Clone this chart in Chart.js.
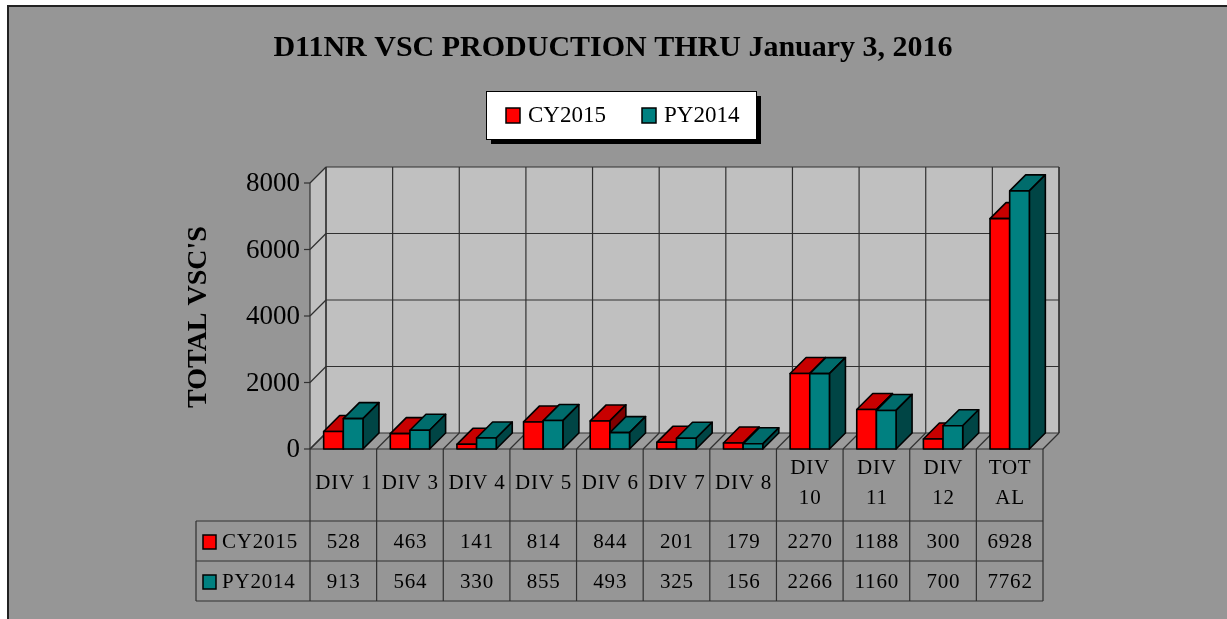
<!DOCTYPE html>
<html>
<head>
<meta charset="utf-8">
<script src="https://cdn.jsdelivr.net/npm/chart.js@4.4.1/dist/chart.umd.min.js"></script>
<style>
  html, body { margin: 0; padding: 0; background: #fff; }
  canvas { display: block; }
</style>
</head>
<body>
<canvas id="chart" width="1227" height="619"></canvas>
<script>
// data
const categories = ['DIV 1', 'DIV 3', 'DIV 4', 'DIV 5', 'DIV 6', 'DIV 7', 'DIV 8', 'DIV 10', 'DIV 11', 'DIV 12', 'TOTAL'];
const headerLabels = [['DIV 1'], ['DIV 3'], ['DIV 4'], ['DIV 5'], ['DIV 6'], ['DIV 7'], ['DIV 8'], ['DIV', '10'], ['DIV', '11'], ['DIV', '12'], ['TOT', 'AL']];
const cy2015 = [528, 463, 141, 814, 844, 201, 179, 2270, 1188, 300, 6928];
const py2014 = [913, 564, 330, 855, 493, 325, 156, 2266, 1160, 700, 7762];
const seriesNames = ['CY2015', 'PY2014'];
const yTicks = [0, 2000, 4000, 6000, 8000];
const titleText = 'D11NR VSC PRODUCTION THRU January 3, 2016';
const yTitleText = "TOTAL VSC'S";

const DX = 16, DY = -16;   // depth of the 3d box
const BG = '#969696';
const WALL = '#c0c0c0';
const LINE = '#303030';
const SERIF = "'Liberation Serif', 'Times New Roman', serif";
const colors = [
    { front: '#ff0000', top: '#c80000', side: '#800000' },
    { front: '#008080', top: '#006c6c', side: '#004545' }
];

function poly(ctx, pts, fill, stroke, lw) {
    ctx.beginPath();
    ctx.moveTo(pts[0][0], pts[0][1]);
    for (let i = 1; i < pts.length; i++) ctx.lineTo(pts[i][0], pts[i][1]);
    ctx.closePath();
    if (fill) { ctx.fillStyle = fill; ctx.fill(); }
    if (stroke) { ctx.strokeStyle = stroke; ctx.lineWidth = lw || 1; ctx.stroke(); }
}

function line(ctx, x1, y1, x2, y2) {
    ctx.beginPath();
    ctx.moveTo(x1, y1);
    ctx.lineTo(x2, y2);
    ctx.stroke();
}

// boundaries between categories, taken from the x scale
function catEdges(chart) {
    const xs = chart.scales.x;
    const n = categories.length;
    const w = (xs.getPixelForValue(1) - xs.getPixelForValue(0));
    const edges = [];
    for (let i = 0; i <= n; i++) edges.push(xs.getPixelForValue(0) - w / 2 + i * w);
    return edges;
}

const chart3d = {
    id: 'chart3d',
    beforeDraw(chart) {
        const ctx = chart.ctx;
        ctx.save();
        ctx.fillStyle = '#fff';
        ctx.fillRect(0, 0, chart.width, chart.height);
        ctx.fillStyle = BG;
        ctx.fillRect(7, 5, chart.width - 7, chart.height - 5);
        ctx.strokeStyle = '#222';
        ctx.lineWidth = 2;
        line(ctx, 7, 6, chart.width, 6);
        line(ctx, 8, 5, 8, chart.height);

        // title
        ctx.fillStyle = '#000';
        ctx.font = 'bold 30px ' + SERIF;
        ctx.textAlign = 'center';
        ctx.textBaseline = 'middle';
        ctx.fillText(titleText, 613, 48);

        // legend box with shadow
        ctx.fillStyle = '#000';
        ctx.fillRect(491, 96, 270, 48);
        ctx.fillStyle = '#fff';
        ctx.fillRect(486, 91, 270, 48);
        ctx.strokeStyle = '#000';
        ctx.lineWidth = 1;
        ctx.strokeRect(486.5, 91.5, 270, 48);
        ctx.font = '23px ' + SERIF;
        ctx.textAlign = 'left';
        const lx = [506, 642];
        seriesNames.forEach((s, i) => {
            ctx.fillStyle = colors[i].front;
            ctx.fillRect(lx[i], 108, 14, 15);
            ctx.strokeStyle = '#000';
            ctx.lineWidth = 1.5;
            ctx.strokeRect(lx[i], 108, 14, 15);
            ctx.fillStyle = '#000';
            ctx.fillText(s, lx[i] + 22, 116);
        });
        ctx.restore();
    },
    beforeDatasetsDraw(chart) {
        const ctx = chart.ctx;
        const a = chart.chartArea;
        const ys = chart.scales.y;
        const L = a.left, R = a.right, T = ys.getPixelForValue(8000), B = ys.getPixelForValue(0);
        const edges = catEdges(chart);
        ctx.save();
        // walls and floor
        poly(ctx, [[L, T], [L + DX, T + DY], [L + DX, B + DY], [L, B]], WALL);
        ctx.fillStyle = WALL;
        ctx.fillRect(L + DX, T + DY, R - L, B - T);
        poly(ctx, [[L, B], [R, B], [R + DX, B + DY], [L + DX, B + DY]], '#9c9c9c');

        ctx.strokeStyle = LINE;
        ctx.lineWidth = 1.2;
        yTicks.forEach(v => {
            const y = ys.getPixelForValue(v);
            line(ctx, L, y, L + DX, y + DY);
            line(ctx, L + DX, y + DY, R + DX, y + DY);
            line(ctx, L - 6, y, L, y);
        });
        edges.forEach(x => {
            line(ctx, x + DX, T + DY, x + DX, B + DY);
            line(ctx, x, B, x + DX, B + DY);
        });
        line(ctx, L, T, L, B);
        line(ctx, L + DX, T + DY, L + DX, B + DY);
        line(ctx, R + DX, T + DY, R + DX, B + DY);
        line(ctx, L, B, R, B);

        // y tick labels
        ctx.fillStyle = '#000';
        ctx.font = '27px ' + SERIF;
        ctx.textAlign = 'right';
        ctx.textBaseline = 'middle';
        yTicks.forEach(v => ctx.fillText(String(v), L - 10, ys.getPixelForValue(v) + 1));

        // y title
        ctx.save();
        ctx.translate(199, 317);
        ctx.rotate(-Math.PI / 2);
        ctx.textAlign = 'center';
        ctx.font = 'bold 28px ' + SERIF;
        ctx.fillText(yTitleText, 0, 0);
        ctx.restore();
        ctx.restore();
    },
    afterDatasetsDraw(chart) {
        const ctx = chart.ctx;
        ctx.save();
        ctx.lineJoin = 'round';
        for (let i = 0; i < categories.length; i++) {
            [0, 1].forEach(d => {
                const el = chart.getDatasetMeta(d).data[i];
                const l = el.x - el.width / 2, r = el.x + el.width / 2;
                const t = el.y, b = el.base;
                const c = colors[d];
                poly(ctx, [[l, t], [r, t], [r + DX, t + DY], [l + DX, t + DY]], c.top, '#000', 1.6);
                poly(ctx, [[r, t], [r + DX, t + DY], [r + DX, b + DY], [r, b]], c.side, '#000', 1.6);
                poly(ctx, [[l, t], [r, t], [r, b], [l, b]], c.front, '#000', 1.6);
            });
        }
        ctx.restore();
    },
    afterDraw(chart) {
        const ctx = chart.ctx;
        const ys = chart.scales.y;
        const B = ys.getPixelForValue(0);
        const edges = catEdges(chart);
        const R = edges[edges.length - 1];
        const rowY = [521, 561, 601];
        const tableLeft = 196;
        ctx.save();
        ctx.strokeStyle = LINE;
        ctx.lineWidth = 1.2;
        edges.forEach(x => line(ctx, x, B, x, rowY[2]));
        line(ctx, tableLeft, rowY[0], tableLeft, rowY[2]);
        rowY.forEach(y => line(ctx, tableLeft, y, R, y));

        ctx.fillStyle = '#000';
        ctx.font = '21px ' + SERIF;
        ctx.textAlign = 'center';
        ctx.textBaseline = 'middle';
        ctx.letterSpacing = '0.8px';
        headerLabels.forEach((lab, i) => {
            const cx = (edges[i] + edges[i + 1]) / 2 + 0.4;
            if (lab.length === 1) {
                ctx.fillText(lab[0], cx, 483);
            } else {
                ctx.fillText(lab[0], cx, 468);
                ctx.fillText(lab[1], cx, 498);
            }
        });
        [cy2015, py2014].forEach((vals, d) => {
            const y = (rowY[d] + rowY[d + 1]) / 2 + 1;
            vals.forEach((v, i) => {
                ctx.fillText(String(v), (edges[i] + edges[i + 1]) / 2 + 0.4, y);
            });
            ctx.textAlign = 'left';
            ctx.fillStyle = colors[d].front;
            ctx.fillRect(203, y - 7, 13, 14);
            ctx.strokeStyle = '#000';
            ctx.lineWidth = 1.5;
            ctx.strokeRect(203, y - 7, 13, 14);
            ctx.fillStyle = '#000';
            ctx.fillText(seriesNames[d], 222, y);
            ctx.textAlign = 'center';
        });
        ctx.restore();
    }
};

new Chart(document.getElementById('chart'), {
    type: 'bar',
    data: {
        labels: categories,
        datasets: [
            { label: seriesNames[0], data: cy2015, backgroundColor: 'rgba(0,0,0,0)', borderWidth: 0 },
            { label: seriesNames[1], data: py2014, backgroundColor: 'rgba(0,0,0,0)', borderWidth: 0 }
        ]
    },
    options: {
        responsive: false,
        animation: false,
        layout: { padding: { left: 310, right: 184, top: 183, bottom: 170 } },
        datasets: { bar: { barPercentage: 1, categoryPercentage: 0.59 } },
        scales: {
            x: { display: false, offset: true },
            y: { display: false, min: 0, max: 8000 }
        },
        plugins: {
            legend: { display: false },
            tooltip: { enabled: false }
        }
    },
    plugins: [chart3d]
});
</script>
</body>
</html>
